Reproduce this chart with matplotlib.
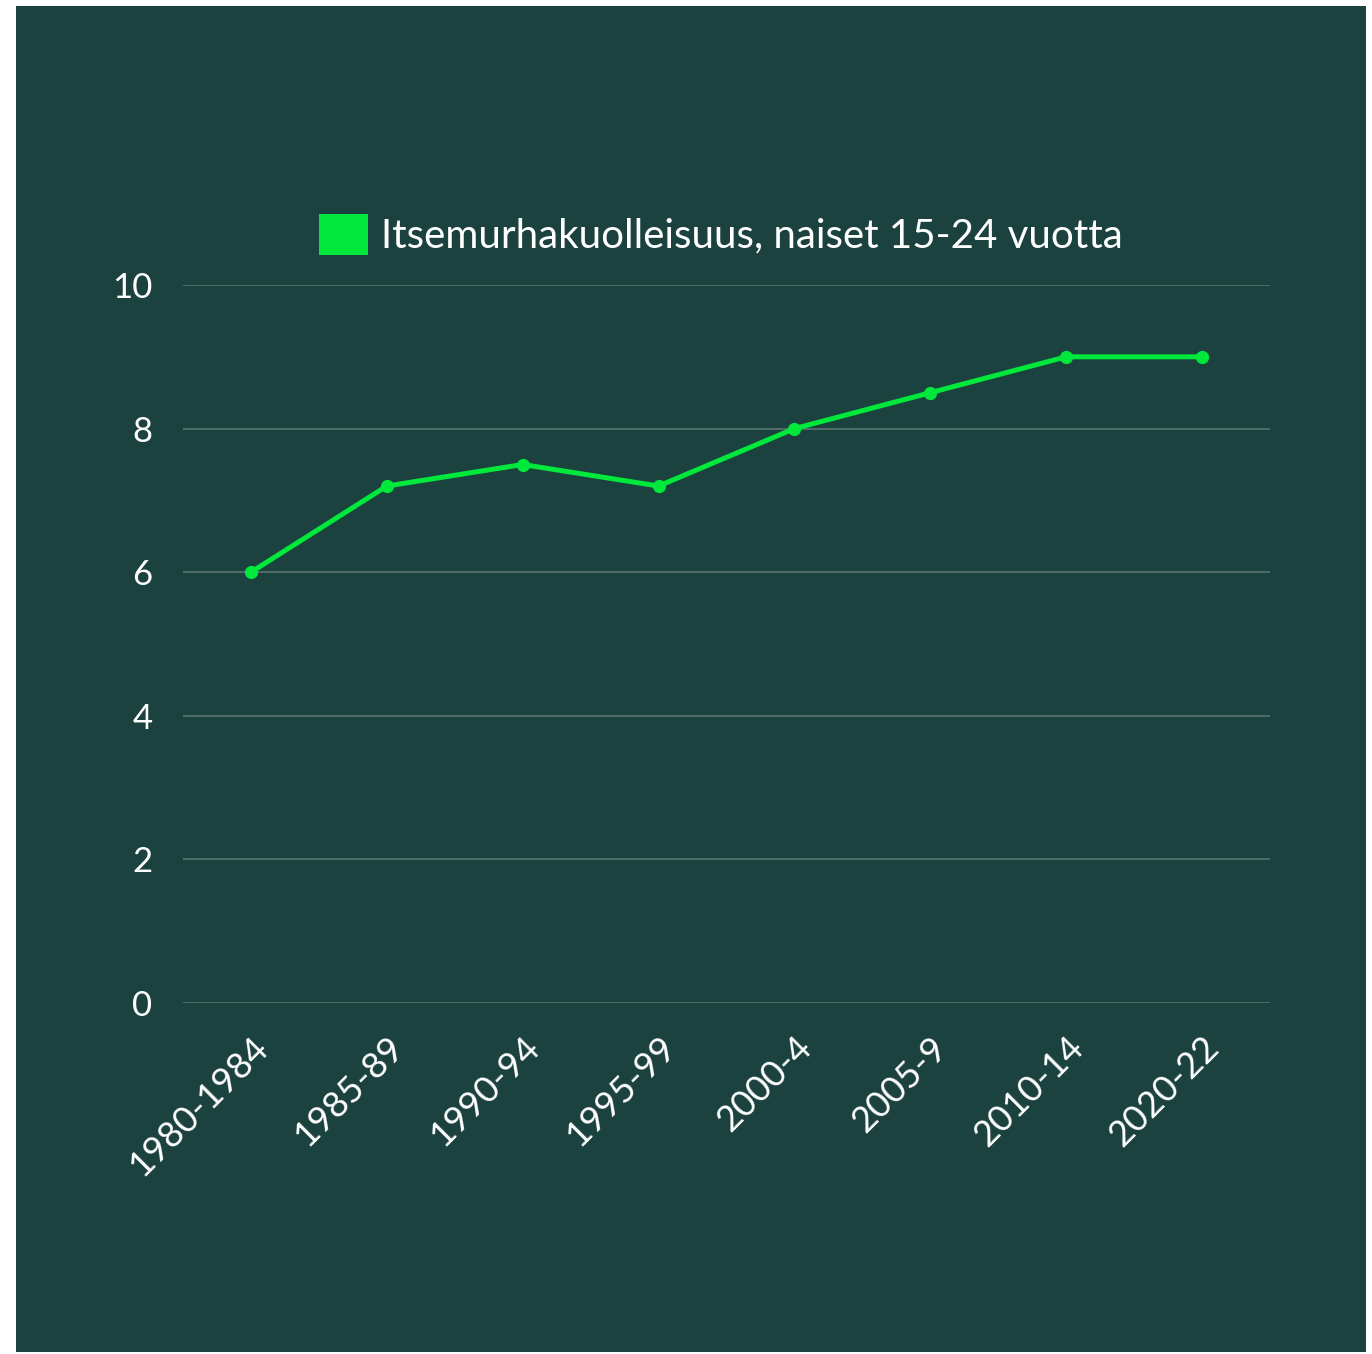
import matplotlib
matplotlib.use('Agg')
import matplotlib.pyplot as plt
from matplotlib.patches import Rectangle, Patch

# data
periods = ['1980-1984', '1985-89', '1990-94', '1995-99', '2000-4', '2005-9', '2010-14', '2020-22']
values = [6.0, 7.2, 7.5, 7.2, 8.0, 8.5, 9.0, 9.0]
yticks = [0, 2, 4, 6, 8, 10]
series_name = 'Itsemurhakuolleisuus, naiset 15-24 vuotta'

bg = '#1b423e'
line_col = '#00e83c'
grid_col = '#4d6b67'

W, H = 1372, 1354
fig = plt.figure(figsize=(W / 100, H / 100), dpi=100, facecolor='white')
plt.rcParams['font.family'] = ['Lato', 'DejaVu Sans']

# dark panel behind everything
panel = Rectangle((16 / W, 2 / H), (1366 - 16) / W, (1348 - 2) / H,
                  transform=fig.transFigure, facecolor=bg, edgecolor='none', zorder=-10)
fig.add_artist(panel)

ax = fig.add_axes([183 / W, (H - 1003) / H, (1270 - 183) / W, (1003 - 285) / H])
ax.set_facecolor('none')
ax.set_zorder(1)

x = list(range(len(periods)))
ax.plot(x, values, color=line_col, linewidth=3.6, marker='o', markersize=8.5,
        solid_capstyle='round', zorder=3)

ax.set_xlim(-0.5, len(periods) - 0.5)
ax.set_ylim(0, 10)
ax.set_yticks(yticks)
for y in yticks:
    ax.axhline(y, color=grid_col, linewidth=1.5, zorder=1)

ax.set_xticks(x)
ax.set_xticklabels(periods, rotation=45, ha='right', va='top', rotation_mode='anchor')
ax.tick_params(axis='both', length=0, colors='white')
ax.tick_params(axis='y', pad=22, labelsize=25)
ax.tick_params(axis='x', pad=20, labelsize=26)
for s in ax.spines.values():
    s.set_visible(False)

handle = Patch(facecolor=line_col, edgecolor='none')
leg = ax.legend([handle], [series_name], loc='lower center', bbox_to_anchor=(0.495, 1.0),
                frameon=False, fontsize=29, handlelength=1.2, handleheight=1.2,
                handletextpad=0.33, borderaxespad=0.35)
for t in leg.get_texts():
    t.set_color('white')

fig.savefig('out.png', dpi=100, facecolor='white')
